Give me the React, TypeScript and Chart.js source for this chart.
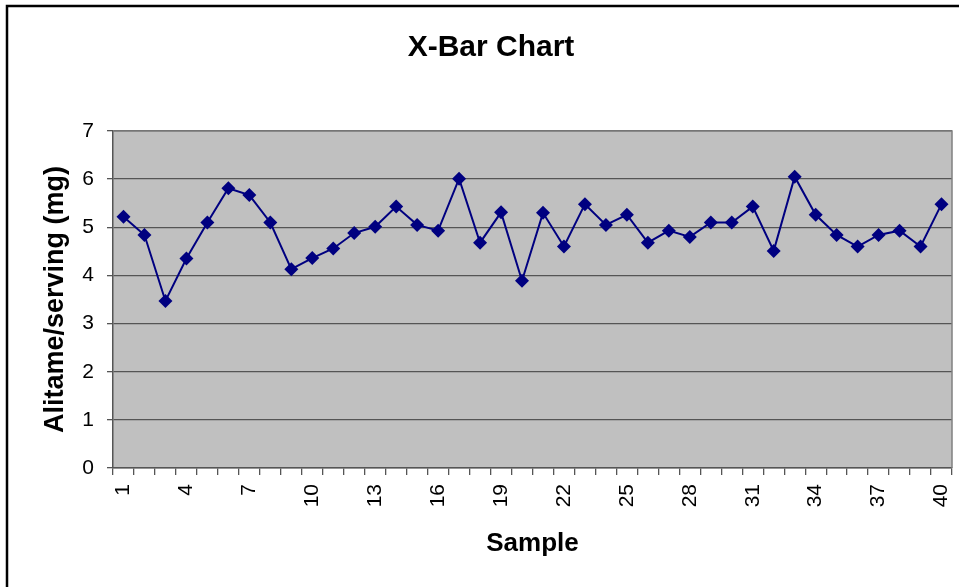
import React, { useEffect, useRef } from "react";
import { Chart, registerables } from "chart.js";

Chart.register(...registerables);

const chartTitle = "X-Bar Chart";
const xAxisTitle = "Sample";
const yAxisTitle = "Alitame/serving (mg)";

const samples: string[] = Array.from({ length: 40 }, (_, i) => String(i + 1));

const xBarValues: number[] = [
  5.22, 4.84, 3.47, 4.35, 5.1, 5.81, 5.67, 5.1, 4.13, 4.36,
  4.56, 4.88, 5.01, 5.43, 5.05, 4.93, 6.01, 4.68, 5.31, 3.89,
  5.3, 4.6, 5.48, 5.05, 5.26, 4.68, 4.93, 4.8, 5.1, 5.1,
  5.43, 4.51, 6.05, 5.26, 4.84, 4.6, 4.84, 4.93, 4.6, 5.48,
];

const yMin = 0;
const yMax = 7;
const yStep = 1;

const FONT = "Arial, 'Liberation Sans', sans-serif";

const framePlugin = {
  id: "frame",
  beforeDraw(chart: any) {
    const { ctx, chartArea } = chart;
    ctx.save();
    ctx.fillStyle = "#ffffff";
    ctx.fillRect(0, 0, chart.width, chart.height);
    ctx.fillStyle = "#c0c0c0";
    ctx.fillRect(chartArea.left, chartArea.top, chartArea.right - chartArea.left, chartArea.bottom - chartArea.top);
    ctx.strokeStyle = "#000000";
    ctx.lineWidth = 2.5;
    ctx.beginPath();
    ctx.moveTo(7, chart.height + 10);
    ctx.lineTo(7, 6);
    ctx.lineTo(chart.width + 10, 6);
    ctx.stroke();
    ctx.restore();
  },
  afterDraw(chart: any) {
    const { ctx, chartArea } = chart;
    ctx.save();
    ctx.strokeStyle = "#808080";
    ctx.lineWidth = 1.5;
    ctx.beginPath();
    ctx.moveTo(chartArea.left, chartArea.top);
    ctx.lineTo(chartArea.right, chartArea.top);
    ctx.lineTo(chartArea.right, chartArea.bottom);
    ctx.stroke();
    ctx.fillStyle = "#000000";
    ctx.font = `bold 30px ${FONT}`;
    ctx.textAlign = "center";
    ctx.textBaseline = "middle";
    ctx.fillText(chartTitle, 491, 48);
    ctx.restore();
  },
};

export default function App() {
  const ref = useRef<HTMLCanvasElement | null>(null);

  useEffect(() => {
    document.body.style.margin = "0";
    const canvas = ref.current;
    if (!canvas) return;
    const chart = new Chart(canvas, {
      type: "line",
      data: {
        labels: samples,
        datasets: [
          {
            data: xBarValues,
            borderColor: "#000080",
            backgroundColor: "#000080",
            borderWidth: 2,
            pointStyle: "rectRot",
            pointRadius: 7,
            pointHoverRadius: 7,
            pointBorderWidth: 0,
            tension: 0,
          },
        ],
      },
      options: {
        responsive: false,
        animation: false,
        events: [],
        layout: { padding: { left: 0, right: 7, top: 131, bottom: 0 } },
        plugins: {
          legend: { display: false },
          title: { display: false },
          tooltip: { enabled: false },
        },
        scales: {
          x: {
            type: "category",
            offset: true,
            afterFit(scale: any) {
              scale.height = 119;
              scale.paddingLeft = 0;
              scale.paddingRight = 0;
            },
            grid: {
              display: true,
              offset: true,
              drawOnChartArea: false,
              drawTicks: true,
              tickLength: 7,
              color: "#555555",
              lineWidth: 1.3,
            },
            border: { display: true, color: "#555555", width: 1.5 },
            ticks: {
              autoSkip: false,
              minRotation: 90,
              maxRotation: 90,
              padding: 9,
              color: "#000000",
              font: { family: FONT, size: 21 },
              callback: (_v: any, i: number) => (i % 3 === 0 ? samples[i] : ""),
            },
            title: {
              display: true,
              text: xAxisTitle,
              color: "#000000",
              font: { family: FONT, size: 26, weight: "bold" },
              padding: { top: 0, bottom: 28 },
            },
          },
          y: {
            min: yMin,
            max: yMax,
            afterFit(scale: any) {
              scale.width = 113;
              scale.paddingTop = 0;
              scale.paddingBottom = 0;
            },
            grid: {
              color: "#555555",
              lineWidth: 1.3,
              drawTicks: true,
              tickLength: 6,
            },
            border: { display: true, color: "#555555", width: 1.5 },
            ticks: {
              stepSize: yStep,
              padding: 13,
              color: "#000000",
              font: { family: FONT, size: 21 },
            },
            title: {
              display: true,
              text: yAxisTitle,
              color: "#000000",
              font: { family: FONT, size: 27, weight: "bold" },
              padding: { top: 39, bottom: 0 },
            },
          },
        },
      },
      plugins: [framePlugin],
    });
    return () => chart.destroy();
  }, []);

  return (
    <div style={{ width: 959, height: 587, position: "relative" }}>
      <canvas ref={ref} width={959} height={587} style={{ display: "block" }} />
    </div>
  );
}
